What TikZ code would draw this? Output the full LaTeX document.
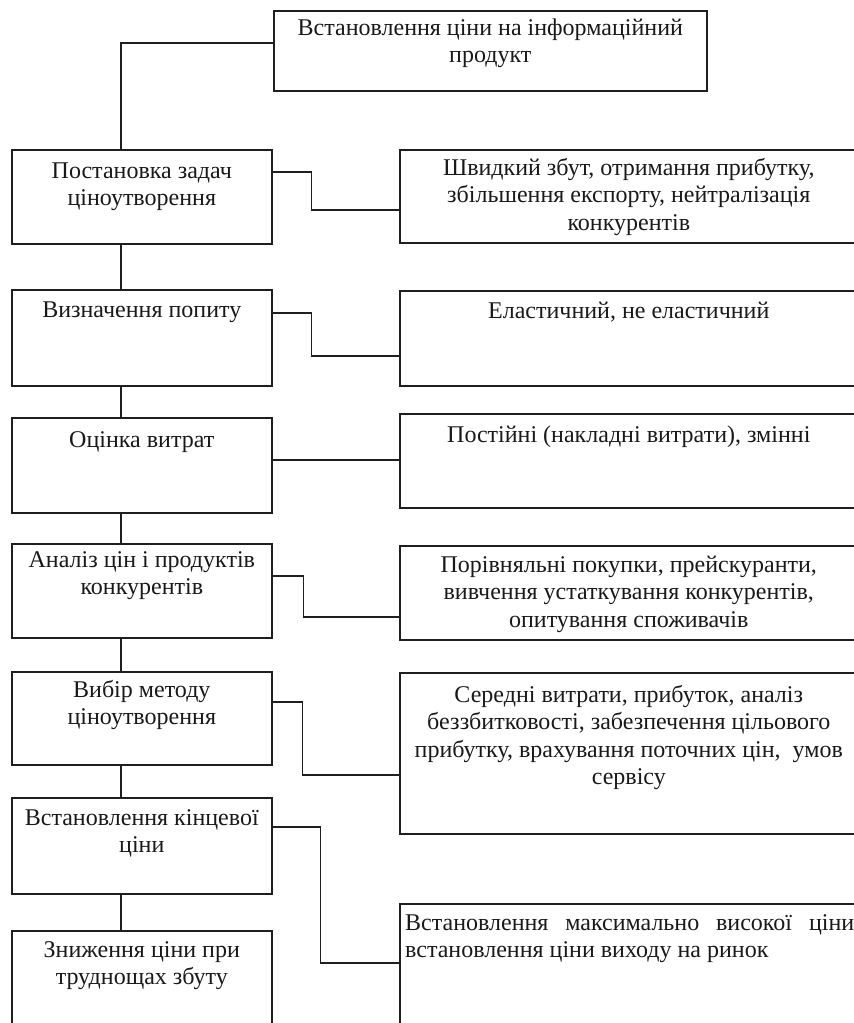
\documentclass[tikz,border=0pt]{standalone}
\usepackage{fontspec}
\setmainfont{Liberation Serif}
\usetikzlibrary{calc}
% fixed top of the first text line in each box
\newcommand\lnstrut{\rule{0pt}{19pt}}
\begin{document}
\begin{tikzpicture}[x=1pt,y=-1pt,
  box/.style={draw=black!88, line width=1.6pt, rectangle, inner sep=0pt, anchor=north west},
  lbox/.style={box, minimum width=260pt},
  rbox/.style={box, minimum width=458pt},
  txt/.style={font=\fontsize{24}{27.5}\selectfont, align=center, inner sep=0pt,
              anchor=north, text=black!90},
  link/.style={line width=1.6pt, draw=black!88}]
\useasboundingbox (0,0) rectangle (854,1023);
\begin{scope}
\clip (0,0) rectangle (854,1023);
\coordinate (spine) at (121,0);

% top stage
\node[box, minimum width=433pt, minimum height=80pt] (top) at (273,10) {};
\node[txt] (ttop) at ($(top.north)+(0,6)$) {\lnstrut Встановлення ціни на інформаційний\\продукт};

% left column: stages
\node[lbox, minimum height=94pt] (l1) at (11,149) {};
\node[lbox, minimum height=96pt] (l2) at (11,289) {};
\node[lbox, minimum height=95pt] (l3) at (11,417) {};
\node[lbox, minimum height=94pt] (l4) at (11,543) {};
\node[lbox, minimum height=93pt] (l5) at (11,671) {};
\node[lbox, minimum height=96pt] (l6) at (11,797) {};
\node[lbox, minimum height=110pt] (l7) at (11,930) {};

\node[txt] (tl1) at ($(l1.north)+(0,10)$) {\lnstrut Постановка задач\\ціноутворення};
\node[txt] (tl2) at ($(l2.north)+(0,9)$) {\lnstrut Визначення попиту};
\node[txt] (tl3) at ($(l3.north)+(0,11)$) {\lnstrut Оцінка витрат};
\node[txt] (tl4) at ($(l4.north)+(0,5)$) {\lnstrut Аналіз цін і продуктів\\конкурентів};
\node[txt] (tl5) at ($(l5.north)+(0,7)$) {\lnstrut Вибір методу\\ціноутворення};
\node[txt] (tl6) at ($(l6.north)+(0,9)$) {\lnstrut Встановлення кінцевої\\ціни};
\node[txt] (tl7) at ($(l7.north)+(0,8)$) {\lnstrut Зниження ціни при\\труднощах збуту};

% right column: details
\node[rbox, minimum height=93pt] (r1) at (399,149) {};
\node[rbox, minimum height=95pt] (r2) at (399,290) {};
\node[rbox, minimum height=94pt] (r3) at (399,413) {};
\node[rbox, minimum height=94pt] (r4) at (399,545) {};
\node[rbox, minimum height=161pt] (r5) at (399,672) {};
\node[rbox, minimum height=140pt] (r6) at (399,903) {};

\node[txt] (tr1) at ($(r1.north)+(0,7)$) {\lnstrut Швидкий збут, отримання прибутку,\\збільшення експорту, нейтралізація\\конкурентів};
\node[txt] (tr2) at ($(r2.north)+(0,9)$) {\lnstrut Еластичний, не еластичний};
\node[txt] (tr3) at ($(r3.north)+(0,10)$) {\lnstrut Постійні (накладні витрати), змінні};
\node[txt] (tr4) at ($(r4.north)+(0,8)$) {\lnstrut Порівняльні покупки, прейскуранти,\\вивчення устаткування конкурентів,\\опитування споживачів};
\node[txt] (tr5) at ($(r5.north)+(0,11)$) {\lnstrut Середні витрати, прибуток, аналіз\\беззбитковості, забезпечення цільового\\прибутку, врахування поточних цін,~ умов\\сервісу};
\node[txt, anchor=north west, align=left] (tr6) at ($(r6.north west)+(6,8)$)
  {\lnstrut\hbox to 449pt{Встановлення\hfill максимально\hfill високої\hfill ціни}\\встановлення ціни виходу на ринок};

% main chain
\draw[link] ($(top.north west)+(0,33)$) -| (l1.north -| spine);
\draw[link] (l1.south -| spine) -- (l2.north -| spine);
\draw[link] (l2.south -| spine) -- (l3.north -| spine);
\draw[link] (l3.south -| spine) -- (l4.north -| spine);
\draw[link] (l4.south -| spine) -- (l5.north -| spine);
\draw[link] (l5.south -| spine) -- (l6.north -| spine);
\draw[link] (l6.south -| spine) -- (l7.north -| spine);

% side links
\draw[link] ($(l1.north east)+(0,23)$) -- ++(39,0) |- ($(r1.north west)+(0,61)$);
\draw[link] ($(l2.north east)+(0,24)$) -- ++(39,0) |- ($(r2.north west)+(0,66)$);
\draw[link] ($(l3.north east)+(0,43)$) -- ($(r3.north west)+(0,47)$);
\draw[link] ($(l4.north east)+(0,33)$) -- ++(31,0) |- ($(r4.north west)+(0,72)$);
\draw[link] ($(l5.north east)+(0,31)$) -- ++(30,0) |- ($(r5.north west)+(0,103)$);
\draw[link] ($(l6.north east)+(0,30)$) -- ++(48,0) |- ($(r6.north west)+(0,60)$);
\end{scope}
\end{tikzpicture}
\end{document}
